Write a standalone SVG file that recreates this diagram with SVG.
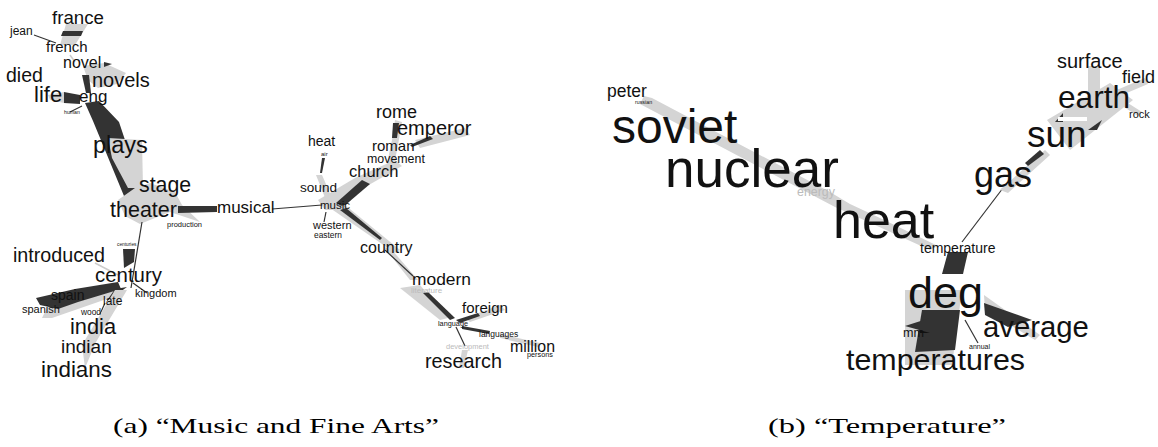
<svg xmlns="http://www.w3.org/2000/svg" width="1158" height="447" viewBox="0 0 1158 447">
<style>
.dk{fill:#333}
.lt{fill:#d4d4d4}
.wh{fill:#fff}
.ln{stroke:#333;fill:none;stroke-width:1.2}
.lg{stroke:#ccc;fill:none;stroke-width:1.5}
text{font-family:"Liberation Sans",Arial,sans-serif;fill:#111}
.fa{fill:#bbb}
.cap{font-family:"Liberation Serif","Times New Roman",serif;fill:#000;font-size:21px}
</style>
<rect width="1158" height="447" fill="#fff"/>
<g id="connectors">
<!-- left panel -->
<polygon class="lt" points="66,24 88,24 75,45 60,45"/>
<polygon class="dk" points="63,31 83,31 81,36 61,36"/>
<line class="ln" x1="34" y1="35" x2="56" y2="43"/>
<line class="lg" x1="70" y1="55" x2="75" y2="62"/>
<polygon class="lt" points="83,66 104,63 126,73 117,84 98,88 88,80"/>
<polygon class="dk" points="104,62 112,64 104,67"/>
<polygon class="dk" points="82,75 89,75 91,93 86,93"/>
<polygon class="lt" points="48,95 64,92 64,103 50,100"/>
<polygon class="dk" points="64,92 80,95 80,104 64,103"/>
<line class="ln" x1="70" y1="112" x2="82" y2="106"/>
<polygon class="dk" points="85,103 99,101 119,122 141,188 137,196 124,196 93,121"/>
<polygon class="lt" points="108,138 142,140 143,188 128,188 112,158"/>
<polygon class="lt" points="118,200 135,188 150,183 175,192 182,205 200,222 170,212 140,224 125,216"/>
<polygon class="dk" points="178,206 217,206 217,212 178,213"/>
<line class="ln" x1="272" y1="209" x2="322" y2="205" stroke-width="1.5"/>
<line class="ln" x1="142" y1="222" x2="131" y2="288"/>
<polygon class="dk" points="123,249 135,249 134,262 124,268"/>
<polygon class="lt" points="42,318 48,306 118,290 124,293 52,318"/>
<polygon class="dk" points="36,298 75,289 118,282 121,289 78,302 58,309 40,305"/>
<polygon class="dk" points="115,289 127,287 106,302"/>
<line class="ln" x1="105" y1="303" x2="100" y2="314"/>
<line class="ln" x1="133" y1="283" x2="147" y2="293" stroke="#777"/>
<line class="lg" x1="95" y1="263" x2="118" y2="275"/>
<polygon class="lt" points="115,290 127,290 96,342 85,368 82,345"/>
<!-- middle -->
<polygon class="lt" points="318,200 355,178 395,160 402,166 360,190 342,210 325,210"/>
<polygon class="dk" points="336,203 362,180 370,184 343,207"/>
<polygon class="lt" points="385,173 392,140 395,120 402,122 398,145 392,175"/>
<polygon class="dk" points="393,123 399,123 397,138 392,138"/>
<polygon class="lt" points="415,140 465,128 470,135 420,148"/>
<polygon class="dk" points="410,145 430,136 433,139 412,147"/>
<polygon class="dk" points="322,158 325,158 322,173 320,173"/>
<polygon class="lt" points="316,175 322,175 335,205 328,205"/>
<line class="ln" x1="326" y1="212" x2="324" y2="222" stroke="#777"/>
<polygon class="lt" points="330,208 345,205 400,250 395,253"/>
<polygon class="dk" points="340,210 346,208 382,238 380,240"/>
<polygon class="lt" points="384,247 392,250 418,280 410,280"/>
<line class="ln" x1="385" y1="250" x2="413" y2="276" stroke-width="2.2"/>
<polygon class="lt" points="400,288 420,285 448,318 440,320"/>
<polygon class="dk" points="423,293 428,292 455,318 450,320"/>
<polygon class="lt" points="465,318 500,305 505,310 470,322"/>
<polygon class="dk" points="456,320 478,313 480,316 460,323"/>
<polygon class="dk" points="462,326 490,331 489,334 462,329"/>
<polygon class="lt" points="500,334 540,343 538,347 500,338"/>
<line class="ln" x1="456" y1="327" x2="465" y2="346"/>
<polygon class="lt" points="462,350 468,350 464,368 459,368"/>
<!-- right panel -->
<polygon class="lt" points="644,96 652,98 830,192 850,204 880,218 938,246 930,250 875,225 835,207 640,104"/>
<polygon class="dk" points="948,252 968,252 963,274 942,274"/>
<polygon class="lt" points="905,290 962,290 952,365 905,365"/>
<polygon class="dk" points="922,310 960,310 955,350 915,352"/>
<rect x="920" y="323" width="10" height="10" fill="#111"/>
<polygon class="lt" points="984,295 1040,335 1035,340 985,310"/>
<polygon class="dk" points="984,303 1032,320 1008,327 985,315"/>
<polygon class="dk" points="905,326 930,318 930,333"/>
<line class="ln" x1="965" y1="320" x2="978" y2="343" stroke-width="1.5"/>
<line class="ln" x1="962" y1="242" x2="1003" y2="188" stroke-width="2.5"/>
<polygon class="lt" points="1000,190 1045,150 1050,155 1008,193"/>
<polygon class="dk" points="1025,163 1040,150 1044,154 1028,166"/>
<polygon class="lt" points="1047,120 1110,83 1133,100 1070,150"/>
<polygon class="dk" points="1055,122 1063,113 1063,122"/>
<polygon class="dk" points="1088,130 1102,120 1097,130"/>
<rect class="wh" x="1058" y="117" width="29" height="4"/>
<polygon class="lt" points="1088,66 1100,66 1100,100 1088,100"/>
<polygon class="lt" points="1105,95 1145,78 1148,84 1110,100"/>
<polygon class="lt" points="1120,98 1142,112 1138,116 1116,102"/>
</g>
<!-- left panel nodes -->
<g id="n-france"><text x="52" y="24" font-size="18.7">france</text></g>
<g id="n-jean"><text x="10" y="35" font-size="12">jean</text></g>
<g id="n-french"><text x="46" y="52" font-size="15">french</text></g>
<g id="n-novel"><text x="63" y="68" font-size="16">novel</text></g>
<g id="n-novels"><text x="92" y="87" font-size="20">novels</text></g>
<g id="n-died"><text x="6" y="82" font-size="19.5">died</text></g>
<g id="n-life"><text x="34" y="102" font-size="22">life</text></g>
<g id="n-eng"><text x="79" y="102" font-size="17">eng</text></g>
<g id="n-human"><text x="64" y="114" font-size="5.2">human</text></g>
<g id="n-plays"><text x="93" y="153" font-size="23.5">plays</text></g>
<g id="n-stage"><text x="139" y="192" font-size="21.3">stage</text></g>
<g id="n-theater"><text x="110" y="217" font-size="21.5">theater</text></g>
<g id="n-musical"><text x="217" y="213" font-size="17">musical</text></g>
<g id="n-production"><text x="167" y="227" font-size="7.5">production</text></g>
<g id="n-centuries"><text x="117" y="246" font-size="4.8">centuries</text></g>
<g id="n-introduced"><text x="13" y="262" font-size="19.7">introduced</text></g>
<g id="n-century"><text x="95" y="282" font-size="20.4">century</text></g>
<g id="n-spain"><text x="51" y="300" font-size="14">spain</text></g>
<g id="n-spanish"><text x="22" y="313" font-size="11">spanish</text></g>
<g id="n-late"><text x="103" y="305" font-size="12">late</text></g>
<g id="n-wood"><text x="81" y="315" font-size="8.4">wood</text></g>
<g id="n-kingdom"><text x="135" y="297" font-size="11">kingdom</text></g>
<g id="n-india"><text x="70" y="334" font-size="21.8">india</text></g>
<g id="n-indian"><text x="61" y="353" font-size="19">indian</text></g>
<g id="n-indians"><text x="41" y="377" font-size="22.4">indians</text></g>
<!-- middle nodes -->
<g id="n-rome"><text x="376" y="118" font-size="18">rome</text></g>
<g id="n-emperor"><text x="397" y="135" font-size="20">emperor</text></g>
<g id="n-heat-a"><text x="308" y="146" font-size="14">heat</text></g>
<g id="n-air"><text x="321" y="156" font-size="6">air</text></g>
<g id="n-roman"><text x="372" y="151" font-size="15">roman</text></g>
<g id="n-movement"><text x="367" y="163" font-size="12.4">movement</text></g>
<g id="n-church"><text x="349" y="177" font-size="16.5">church</text></g>
<g id="n-sound"><text x="300" y="192" font-size="13.6">sound</text></g>
<g id="n-music"><text x="320" y="209" font-size="11.5">music</text></g>
<g id="n-western"><text x="313" y="229" font-size="11">western</text></g>
<g id="n-eastern"><text x="314" y="238" font-size="8.4">eastern</text></g>
<g id="n-country"><text x="360" y="253" font-size="16">country</text></g>
<g id="n-modern"><text x="412" y="285" font-size="17.4">modern</text></g>
<g id="n-literature"><text x="411" y="293" font-size="8" class="fa">literature</text></g>
<g id="n-foreign"><text x="462" y="313" font-size="15">foreign</text></g>
<g id="n-language"><text x="438" y="326" font-size="7.3">language</text></g>
<g id="n-languages"><text x="479" y="337" font-size="8.5">languages</text></g>
<g id="n-development"><text x="446" y="349" font-size="7.5" class="fa">development</text></g>
<g id="n-million"><text x="510" y="352" font-size="15.9">million</text></g>
<g id="n-persons"><text x="527" y="357" font-size="7.3">persons</text></g>
<g id="n-research"><text x="425" y="368" font-size="19.8">research</text></g>
<!-- right panel nodes -->
<g id="n-peter"><text x="607" y="97" font-size="17.5">peter</text></g>
<g id="n-russian"><text x="635" y="104" font-size="5.3">russian</text></g>
<g id="n-soviet"><text x="612" y="143" font-size="48">soviet</text></g>
<g id="n-nuclear"><text x="665" y="187" font-size="53">nuclear</text></g>
<g id="n-energy"><text x="797" y="196" font-size="12.4" class="fa">energy</text></g>
<g id="n-heat"><text x="833" y="238" font-size="52">heat</text></g>
<g id="n-temperature"><text x="920" y="253" font-size="14">temperature</text></g>
<g id="n-gas"><text x="974" y="187" font-size="36">gas</text></g>
<g id="n-sun"><text x="1027" y="147" font-size="37">sun</text></g>
<g id="n-earth"><text x="1058" y="108" font-size="31.6">earth</text></g>
<g id="n-rock"><text x="1129" y="118" font-size="11">rock</text></g>
<g id="n-field"><text x="1122" y="83" font-size="18">field</text></g>
<g id="n-surface"><text x="1057" y="68" font-size="20">surface</text></g>
<g id="n-deg"><text x="908" y="308" font-size="45">deg</text></g>
<g id="n-mm"><text x="903" y="337" font-size="12.6">mm</text></g>
<g id="n-average"><text x="983" y="337" font-size="29.3">average</text></g>
<g id="n-annual"><text x="969" y="349" font-size="7">annual</text></g>
<g id="n-temperatures"><text x="846" y="370" font-size="30.4">temperatures</text></g>
<!-- captions -->
<g id="caption-a"><text class="cap" x="113" y="433" textLength="326" lengthAdjust="spacingAndGlyphs">(a) “Music and Fine Arts”</text></g>
<g id="caption-b"><text class="cap" x="768" y="433" textLength="238" lengthAdjust="spacingAndGlyphs">(b) “Temperature”</text></g>
</svg>
